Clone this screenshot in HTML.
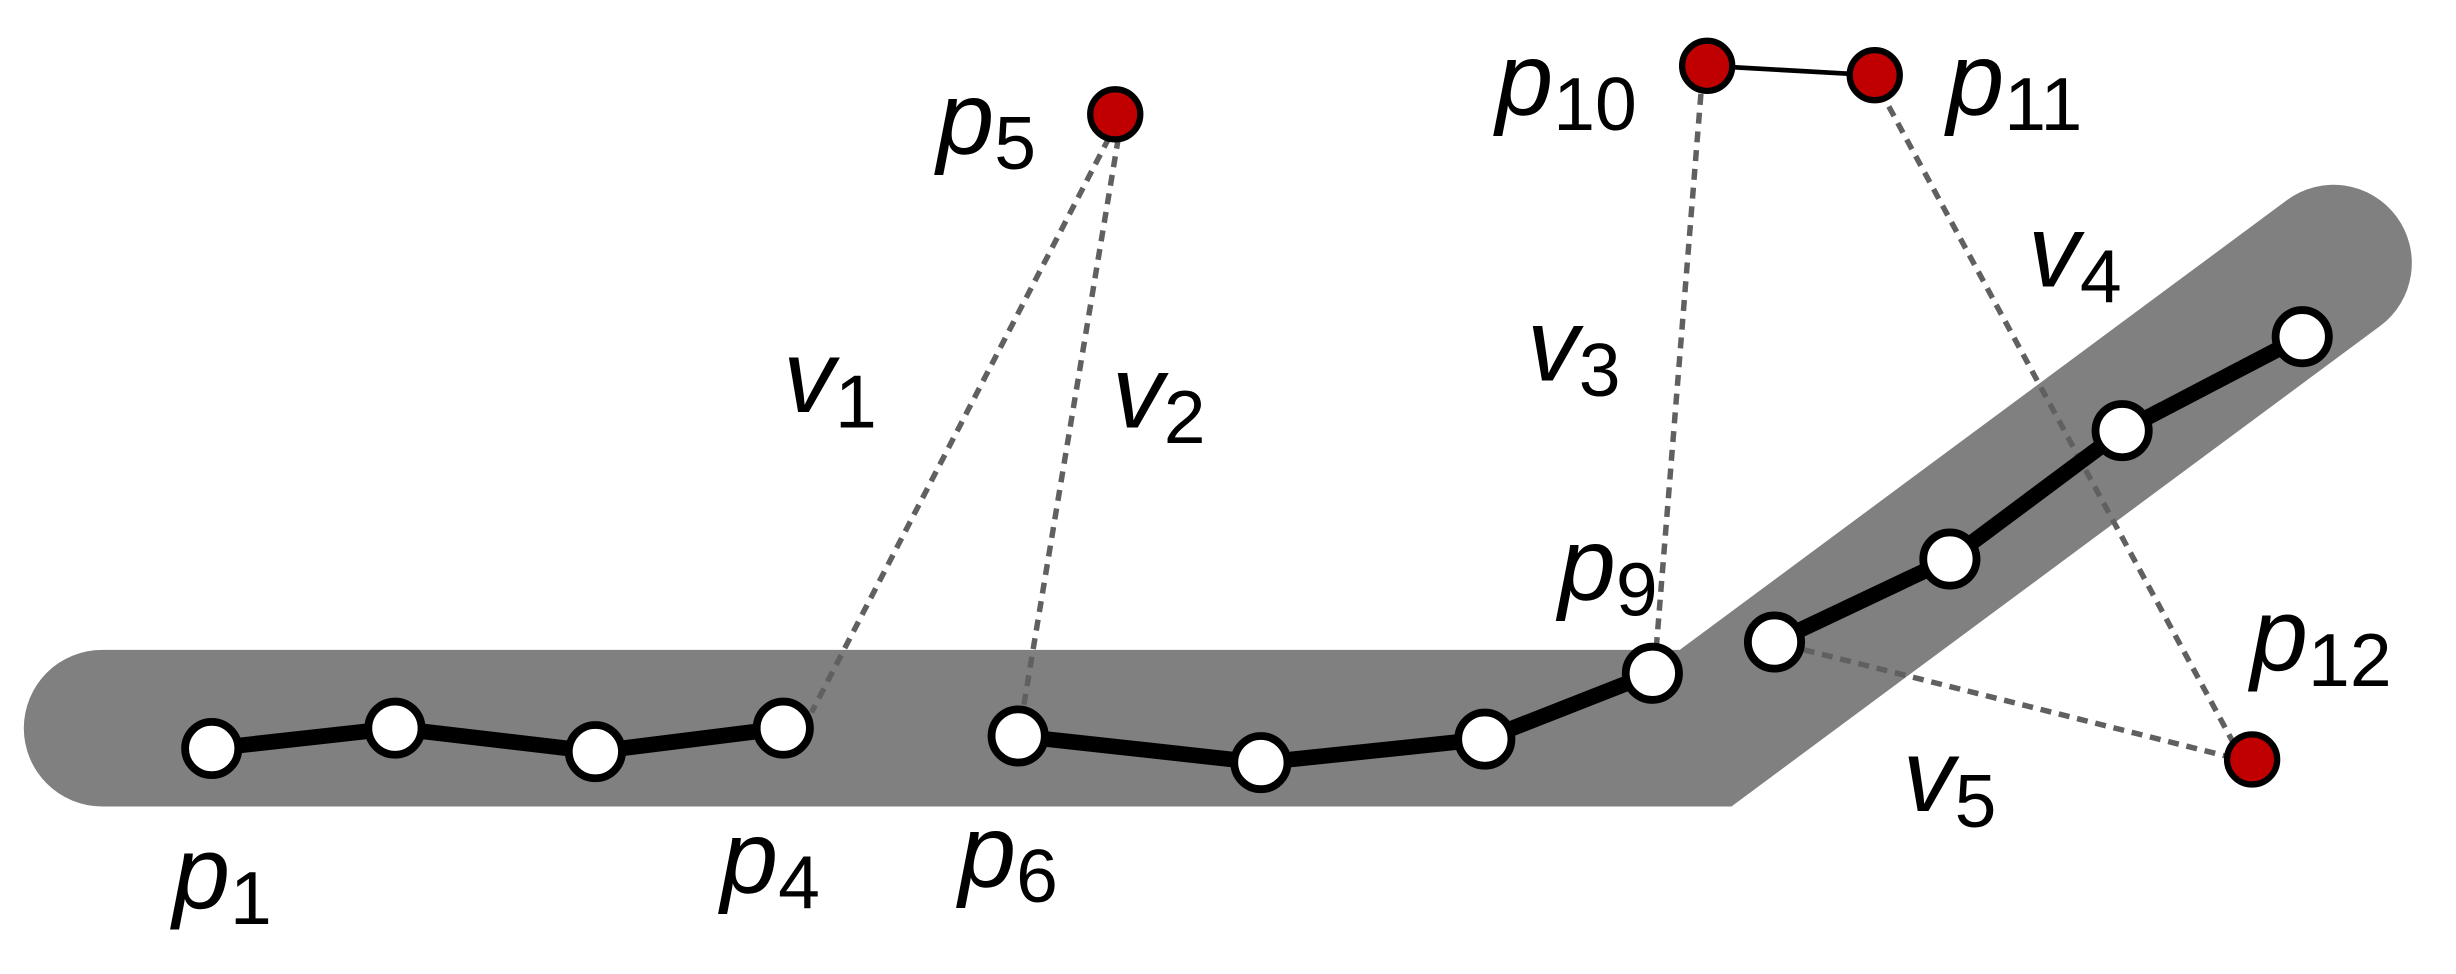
<!DOCTYPE html>
<html><head><meta charset="utf-8"><style>
html,body{margin:0;padding:0;background:#fff;}
svg{display:block;}
text{font-family:"Liberation Sans",sans-serif;fill:#000;}
.m{font-style:italic;font-size:66px;}
.s{font-size:48px;font-style:normal;}
</style></head><body>
<svg width="2456" height="974" viewBox="0 0 1568 622" xmlns="http://www.w3.org/2000/svg">
<rect width="1568" height="622" fill="#fff"/>
<polyline points="65,465 1089,465 1490,168" fill="none" stroke="#808080" stroke-width="100" stroke-linecap="round" stroke-linejoin="miter"/>
<g stroke="#606060" stroke-width="3.5" stroke-dasharray="7,5" fill="none">
<line x1="708" y1="88" x2="518" y2="455"/>
<line x1="714" y1="88" x2="652" y2="460"/>
<line x1="1086" y1="60" x2="1057" y2="420"/>
<line x1="1206" y1="68" x2="1428" y2="478"/>
<line x1="1140" y1="412" x2="1430" y2="485"/>
</g>
<polyline points="135,478 252,465 380,480 500,465" fill="none" stroke="#000" stroke-width="10" stroke-linejoin="round"/>
<polyline points="650,470 805,487 948,472 1055,430" fill="none" stroke="#000" stroke-width="10" stroke-linejoin="round"/>
<polyline points="1133,410 1245,357 1355,275 1470,215" fill="none" stroke="#000" stroke-width="10" stroke-linejoin="round"/>
<line x1="1090" y1="42" x2="1197" y2="48" stroke="#000" stroke-width="3"/>
<g fill="#fff" stroke="#000" stroke-width="5">
<circle cx="135" cy="478" r="17"/><circle cx="252" cy="465" r="17"/><circle cx="380" cy="480" r="17"/><circle cx="500" cy="465" r="17"/>
<circle cx="650" cy="470" r="17"/><circle cx="805" cy="487" r="17"/><circle cx="948" cy="472" r="17"/><circle cx="1055" cy="430" r="17"/>
<circle cx="1133" cy="410" r="17"/><circle cx="1245" cy="357" r="17"/><circle cx="1355" cy="275" r="17"/><circle cx="1470" cy="215" r="17"/>
</g>
<g fill="#c00000" stroke="#000" stroke-width="4">
<circle cx="712" cy="73" r="16"/><circle cx="1090" cy="42" r="16"/><circle cx="1197" cy="48" r="16"/><circle cx="1438" cy="485" r="16"/>
</g>
<text x="110" y="580" class="m">p<tspan class="s" dy="10">1</tspan></text>
<text x="460" y="570" class="m">p<tspan class="s" dy="10">4</tspan></text>
<text x="612" y="566" class="m">p<tspan class="s" dy="10">6</tspan></text>
<text x="598" y="98" class="m">p<tspan class="s" dy="10">5</tspan></text>
<text x="955" y="73" class="m">p<tspan class="s" dy="10">10</tspan></text>
<text x="1243" y="73" class="m">p<tspan class="s" dy="10">11</tspan></text>
<text x="995" y="383" class="m">p<tspan class="s" dy="10">9</tspan></text>
<text x="1437" y="428" class="m">p<tspan class="s" dy="10">12</tspan></text>
<text x="500" y="263" class="m">v<tspan class="s" dy="10">1</tspan></text>
<text x="710" y="273" class="m">v<tspan class="s" dy="10">2</tspan></text>
<text x="975" y="243" class="m">v<tspan class="s" dy="10">3</tspan></text>
<text x="1295" y="183" class="m">v<tspan class="s" dy="10">4</tspan></text>
<text x="1215" y="518" class="m">v<tspan class="s" dy="10">5</tspan></text>
</svg>
</body></html>
